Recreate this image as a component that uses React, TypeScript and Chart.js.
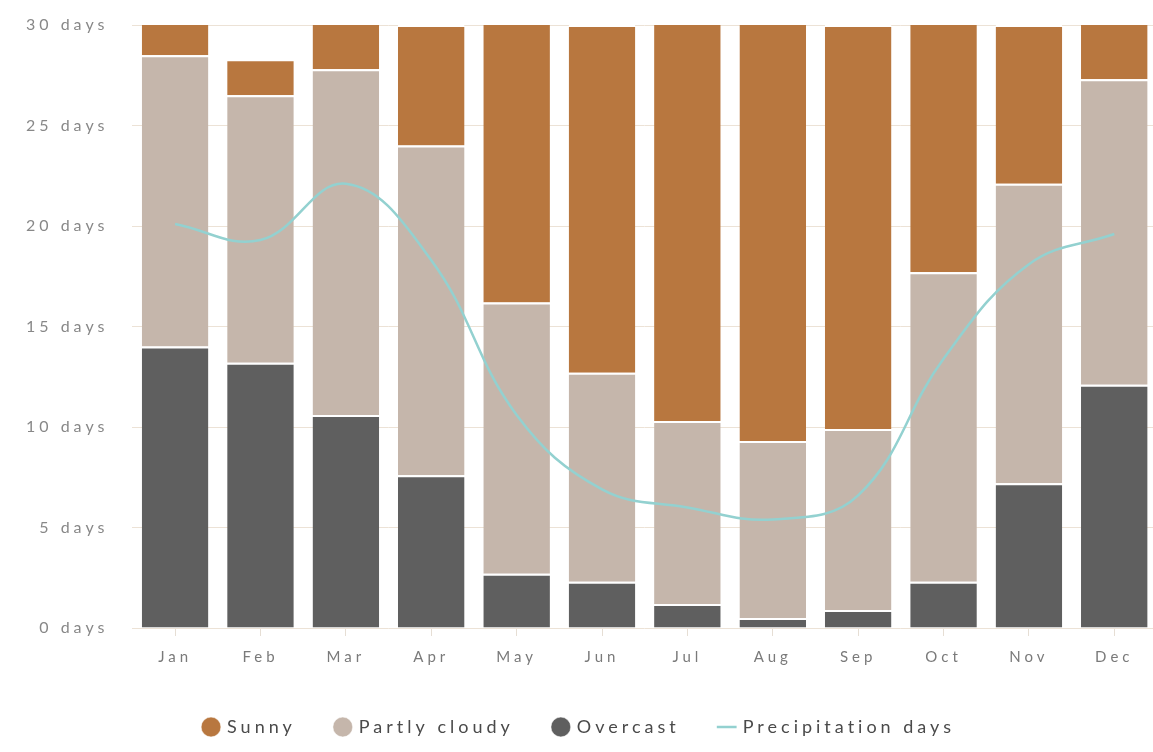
import React, { useEffect, useRef } from "react";
import { Chart, registerables } from "chart.js";
Chart.register(...registerables);

const months = ["Jan", "Feb", "Mar", "Apr", "May", "Jun", "Jul", "Aug", "Sep", "Oct", "Nov", "Dec"];
const overcast = [14.0, 13.2, 10.6, 7.6, 2.7, 2.3, 1.2, 0.5, 0.9, 2.3, 7.2, 12.1];
const partlyCloudy = [14.5, 13.3, 17.2, 16.4, 13.5, 10.4, 9.1, 8.8, 9.0, 15.4, 14.9, 15.2];
const sunny = [2.5, 1.8, 3.2, 6.0, 14.8, 17.3, 20.7, 21.7, 20.1, 13.3, 7.9, 3.7];
const precipitation = [20.1, 19.3, 22.1, 18.3, 10.6, 6.9, 6.0, 5.4, 6.6, 13.4, 18.1, 19.6];
const legendOrder = ["Sunny", "Partly cloudy", "Overcast", "Precipitation days"];

const spacingPlugin = {
  id: "spacing",
  beforeUpdate(chart: any) {
    chart.ctx.letterSpacing = "4px";
  },
  beforeDraw(chart: any) {
    chart.ctx.letterSpacing = "4px";
  },
};

export default function App() {
  const ref = useRef<HTMLCanvasElement>(null);
  useEffect(() => {
    const font = "Lato";
    const border = { top: 2, bottom: 0, left: 0, right: 0 };
    const chart = new Chart(ref.current!, {
      type: "bar",
      plugins: [spacingPlugin],
      data: {
        labels: months,
        datasets: [
          {
            type: "line",
            label: "Precipitation days",
            data: precipitation,
            borderColor: "#93d1d0",
            backgroundColor: "#93d1d0",
            borderWidth: 2.5,
            tension: 0.4,
            pointRadius: 0,
            pointStyle: "line",
            order: 0,
            stack: "line",
          } as any,
          {
            label: "Overcast",
            data: overcast,
            backgroundColor: "#5f5f5f",
            borderColor: "#ffffff",
            borderWidth: border,
            borderSkipped: false,
            stack: "s",
            order: 1,
          },
          {
            label: "Partly cloudy",
            data: partlyCloudy,
            backgroundColor: "#c5b6ab",
            borderColor: "#ffffff",
            borderWidth: border,
            borderSkipped: false,
            stack: "s",
            order: 1,
          },
          {
            label: "Sunny",
            data: sunny,
            backgroundColor: "#b8773f",
            borderColor: "#ffffff",
            borderWidth: border,
            borderSkipped: false,
            stack: "s",
            order: 1,
          },
        ],
      },
      options: {
        animation: false,
        responsive: true,
        maintainAspectRatio: false,
        datasets: { bar: { barPercentage: 0.78, categoryPercentage: 1, clip: 0 } as any },
        layout: { padding: { top: 25, bottom: 6, left: 2, right: 0 } },
        scales: {
          x: {
            stacked: true,
            grid: { display: true, drawOnChartArea: false, offset: false, tickLength: 8, color: "#e6ded4" },
            border: { display: false },
            ticks: { color: "#7a7a7a", font: { family: font, size: 15 }, padding: 12 },
          },
          y: {
            stacked: true,
            min: 0,
            max: 30,
            grid: { color: "#ece2d6", drawTicks: false },
            border: { display: false },
            afterFit: (scale: any) => {
              scale.paddingTop = 0;
              scale.paddingBottom = 0;
            },
            ticks: {
              stepSize: 5,
              color: "#888888",
              font: { family: font, size: 16 },
              padding: 24,
              callback: (v: any) => `${v} days`,
            },
          },
        },
        plugins: {
          tooltip: { enabled: false },
          legend: {
            position: "bottom",
            labels: {
              usePointStyle: true,
              boxWidth: 14,
              boxHeight: 14,
              padding: 40,
              color: "#4a4a4a",
              font: { family: font, size: 18 },
              sort: (a: any, b: any) => legendOrder.indexOf(a.text) - legendOrder.indexOf(b.text),
            },
          },
        },
      },
    });
    return () => chart.destroy();
  }, []);
  return (
    <div style={{ position: "fixed", left: 0, top: 0, width: 1157, height: 752 }}>
      <canvas ref={ref} />
    </div>
  );
}
